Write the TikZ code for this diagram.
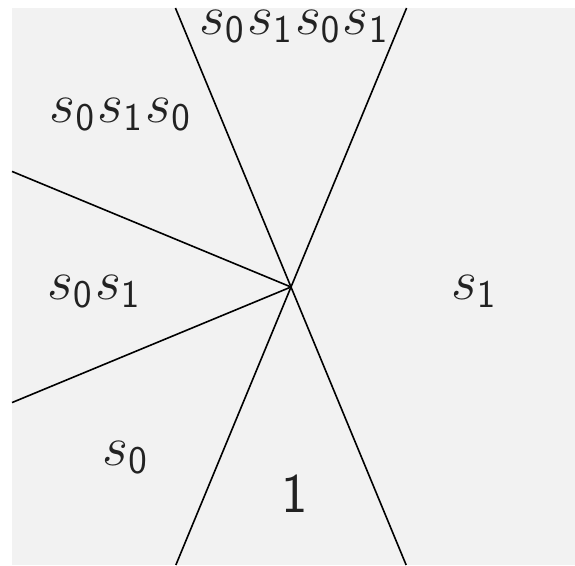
\documentclass[tikz,border=0pt]{standalone}
\usepackage{fix-cm}
\definecolor{bgGray}{HTML}{F2F2F2}
\definecolor{txtGray}{HTML}{222222}
\newcommand{\gzero}{s_{\mathsf{0}}}
\newcommand{\gone}{s_{\mathsf{1}}}
\tikzset{
  wall/.style={line width=1.6pt, black},
  chamber/.style={anchor=base, inner sep=0pt, text=txtGray, font=\fontsize{56}{66}\selectfont}
}
\begin{document}
\begin{tikzpicture}[x=1pt,y=-1pt]
\useasboundingbox (0,0) rectangle (575,565);
\fill[bgGray] (12,8) rectangle (575,565);
\coordinate (c) at (291,287);
\coordinate (tl) at (175.43,8);
\coordinate (tr) at (406.57,8);
\coordinate (bl) at (175.85,565);
\coordinate (br) at (406.15,565);
\coordinate (lu) at (12,171.43);
\coordinate (ll) at (12,402.57);
\draw[wall] (tl) -- (br);
\draw[wall] (tr) -- (bl);
\draw[wall] (lu) -- (c);
\draw[wall] (ll) -- (c);
\node[chamber] (w4) at (293.5,34) {$\gzero\mkern1mu\gone\mkern1mu\gzero\mkern1mu\gone$};
\node[chamber] (w3) at (120,122) {$\gzero\mkern1mu\gone\mkern1mu\gzero$};
\node[chamber] (w2) at (93.5,299) {$\gzero\mkern1mu\gone$};
\node[chamber] (w1) at (125,465) {$\gzero$};
\node[chamber] (w0) at (295,512) {$\mathsf{1}$};
\node[chamber] (v1) at (473.5,299) {$\gone$};
\end{tikzpicture}
\end{document}
